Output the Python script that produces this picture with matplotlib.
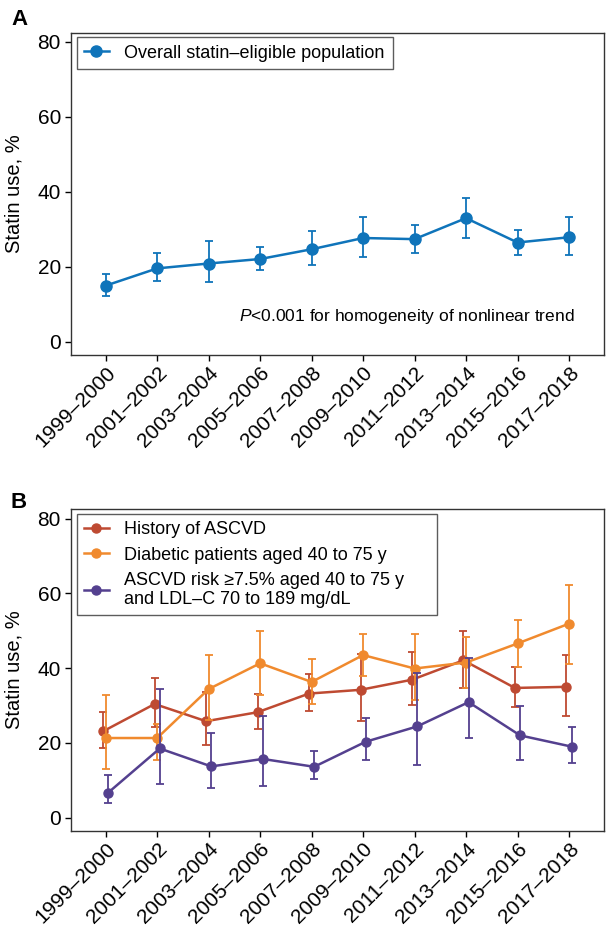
import matplotlib
matplotlib.use("Agg")
import matplotlib.pyplot as plt
import numpy as np

plt.rcParams['font.family'] = ['Liberation Sans', 'DejaVu Sans']
plt.rcParams['mathtext.fontset'] = 'custom'
plt.rcParams['mathtext.it'] = 'Liberation Sans:italic'
plt.rcParams['mathtext.rm'] = 'Liberation Sans'

periods = ["1999–2000", "2001–2002", "2003–2004", "2005–2006", "2007–2008",
           "2009–2010", "2011–2012", "2013–2014", "2015–2016", "2017–2018"]

# panel A: overall statin-eligible population
overall = [15.0, 19.6, 20.9, 22.1, 24.7, 27.7, 27.4, 33.0, 26.5, 27.9]
overall_lo = [12.3, 16.2, 16.0, 19.1, 20.5, 22.6, 23.8, 27.8, 23.3, 23.2]
overall_hi = [18.1, 23.7, 26.9, 25.2, 29.5, 33.4, 31.3, 38.5, 29.9, 33.3]

# panel B: subgroups
ascvd = [23.1, 30.4, 25.8, 28.2, 33.2, 34.2, 36.9, 42.1, 34.7, 35.0]
ascvd_lo = [18.5, 24.2, 19.3, 23.6, 28.5, 25.9, 30.1, 34.8, 29.6, 27.1]
ascvd_hi = [28.3, 37.3, 33.6, 33.2, 38.3, 43.7, 44.3, 49.9, 40.2, 43.6]

diabetic = [21.3, 21.3, 34.4, 41.3, 36.3, 43.5, 39.9, 41.5, 46.6, 51.9]
diabetic_lo = [13.1, 15.5, 26.0, 32.7, 30.4, 37.9, 31.5, 34.6, 40.3, 41.1]
diabetic_hi = [32.7, 25.0, 43.5, 50.0, 42.4, 49.1, 49.1, 48.4, 52.8, 62.3]

risk = [6.7, 18.5, 13.7, 15.7, 13.6, 20.3, 24.4, 30.9, 22.0, 19.0]
risk_lo = [3.8, 8.9, 7.9, 8.5, 10.3, 15.3, 14.2, 21.2, 15.5, 14.7]
risk_hi = [11.4, 34.5, 22.7, 27.3, 17.8, 26.6, 38.7, 42.8, 29.8, 24.2]

x = np.arange(len(periods))


def draw(ax, vals, lo, hi, color, label, shift=0.0, ms=7, lw=1.8):
    vals = np.array(vals)
    err = [vals - np.array(lo), np.array(hi) - vals]
    ax.errorbar(x + shift, vals, yerr=err, fmt='none', ecolor=color,
                elinewidth=1.3, capsize=3.2, capthick=1.3)
    ax.plot(x + shift, vals, color=color, marker='o', ms=ms, lw=lw, label=label)


def style(ax):
    ax.set_xlim(-0.68, 9.68)
    ax.set_ylim(-3.5, 82.5)
    ax.set_yticks([0, 20, 40, 60, 80])
    ax.set_xticks(x)
    ax.set_xticklabels(periods, rotation=45, ha='right', rotation_mode='anchor')
    ax.tick_params(labelsize=15, length=4, width=1, pad=3)
    ax.tick_params(axis='x', pad=2)
    ax.set_ylabel("Statin use, %", fontsize=14.5, labelpad=10)
    for s in ax.spines.values():
        s.set_linewidth(1)
        s.set_color('#333333')


def legend(ax, width, spacing):
    leg = ax.legend(loc='upper left', bbox_to_anchor=(0.011, 0.985, width, 0),
                    mode='expand', fontsize=13, frameon=True, fancybox=False,
                    borderaxespad=0, handlelength=1.4, handletextpad=0.8,
                    borderpad=0.4, labelspacing=spacing)
    leg.get_frame().set_edgecolor('#333333')
    leg.get_frame().set_linewidth(1)


fig = plt.figure(figsize=(6.08, 9.32), dpi=100)

axA = fig.add_axes([0.1163, 0.6191, 0.8771, 0.3460])
draw(axA, overall, overall_lo, overall_hi, '#0F74BA',
     "Overall statin–eligible population", ms=8)
style(axA)
axA.text(9.1, 6.9, r"$P$<0.001 for homogeneity of nonlinear trend",
         ha='right', va='center', fontsize=12.5)
legend(axA, 0.594, 0.3)
fig.text(0.018, 0.99, "A", fontsize=16, fontweight='bold', va='top')

axB = fig.add_axes([0.1163, 0.1087, 0.8771, 0.3448])
draw(axB, ascvd, ascvd_lo, ascvd_hi, '#BE4A32', "History of ASCVD",
     shift=-0.05, ms=6.5)
draw(axB, diabetic, diabetic_lo, diabetic_hi, '#F08A2E',
     "Diabetic patients aged 40 to 75 y", ms=6.5)
draw(axB, risk, risk_lo, risk_hi, '#54408F',
     "ASCVD risk ≥7.5% aged 40 to 75 y\nand LDL–C 70 to 189 mg/dL",
     shift=0.05, ms=6.5)
style(axB)
legend(axB, 0.676, 0.45)
fig.text(0.018, 0.472, "B", fontsize=16, fontweight='bold', va='top')

fig.savefig("out.png", dpi=100)
